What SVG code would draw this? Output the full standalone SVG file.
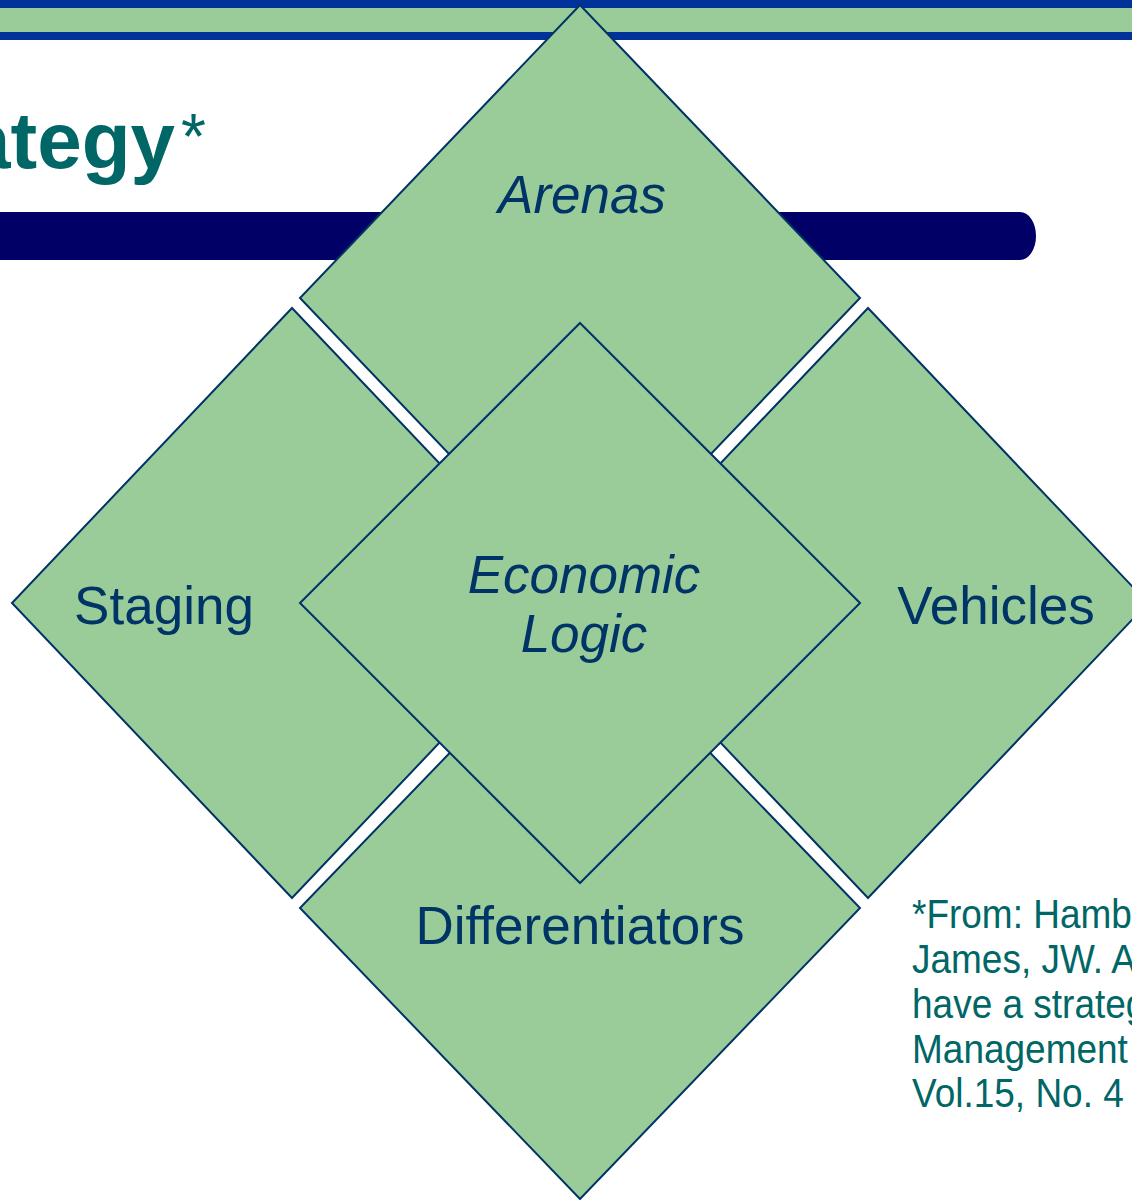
<svg xmlns="http://www.w3.org/2000/svg" width="1132" height="1200" viewBox="0 0 1132 1200">
<style>
.dia{fill:#99CC99;stroke:#003366;stroke-width:2;stroke-linejoin:miter}
.lbl{font-family:"Liberation Sans",Arial,sans-serif;font-size:53px;fill:#003366;text-anchor:middle}
.it{font-style:italic}
.title{font-family:"Liberation Sans",Arial,sans-serif;fill:#006666}
.note{font-family:"Liberation Sans",Arial,sans-serif;font-size:37px;fill:#006666}
</style>
<rect width="1132" height="1200" fill="#ffffff"/>
<g id="topbar">
<rect x="0" y="0" width="1132" height="40" fill="#003399"/>
<rect x="0" y="8" width="1132" height="24" fill="#99CC99"/>
</g>
<g id="title">
<text class="title" x="175" y="168" font-size="80" font-weight="bold" text-anchor="end">ategy</text>
<text class="title" x="181" y="159" font-size="64">*</text>
</g>
<g id="titlebar">
<path d="M-10,212 H1020 A16,24 0 0 1 1020,260 H-10 Z" fill="#000066"/>
</g>
<g id="connectors"></g>
<g id="arenas">
<polygon class="dia" points="580,5 860,298 580,591 300,298"/>
<text class="lbl it" x="582" y="213">Arenas</text>
</g>
<g id="staging">
<polygon class="dia" points="292,308 572,603 292,898 12,603"/>
<text class="lbl" x="164" y="624">Staging</text>
</g>
<g id="vehicles">
<polygon class="dia" points="868,308 1148,603 868,898 588,603"/>
<text class="lbl" x="996" y="624">Vehicles</text>
</g>
<g id="differentiators">
<polygon class="dia" points="580,618 860,908 580,1199 300,908"/>
<text class="lbl" x="580" y="944">Differentiators</text>
</g>
<g id="economic-logic">
<polygon class="dia" points="580,323 860,603 580,883 300,603"/>
<text class="lbl it" x="584" y="593">Economic</text>
<text class="lbl it" x="584" y="652">Logic</text>
</g>
<g id="footnote">
<text class="note" transform="translate(912,928) scale(1,1.12)">*From: Hamb</text>
<text class="note" transform="translate(912,973) scale(1,1.12)">James, JW. A</text>
<text class="note" transform="translate(912,1018) scale(1,1.12)">have a strateg</text>
<text class="note" transform="translate(912,1063) scale(1,1.12)">Management</text>
<text class="note" transform="translate(912,1107) scale(1,1.12)">Vol.15, No. 4</text>
</g>
</svg>
